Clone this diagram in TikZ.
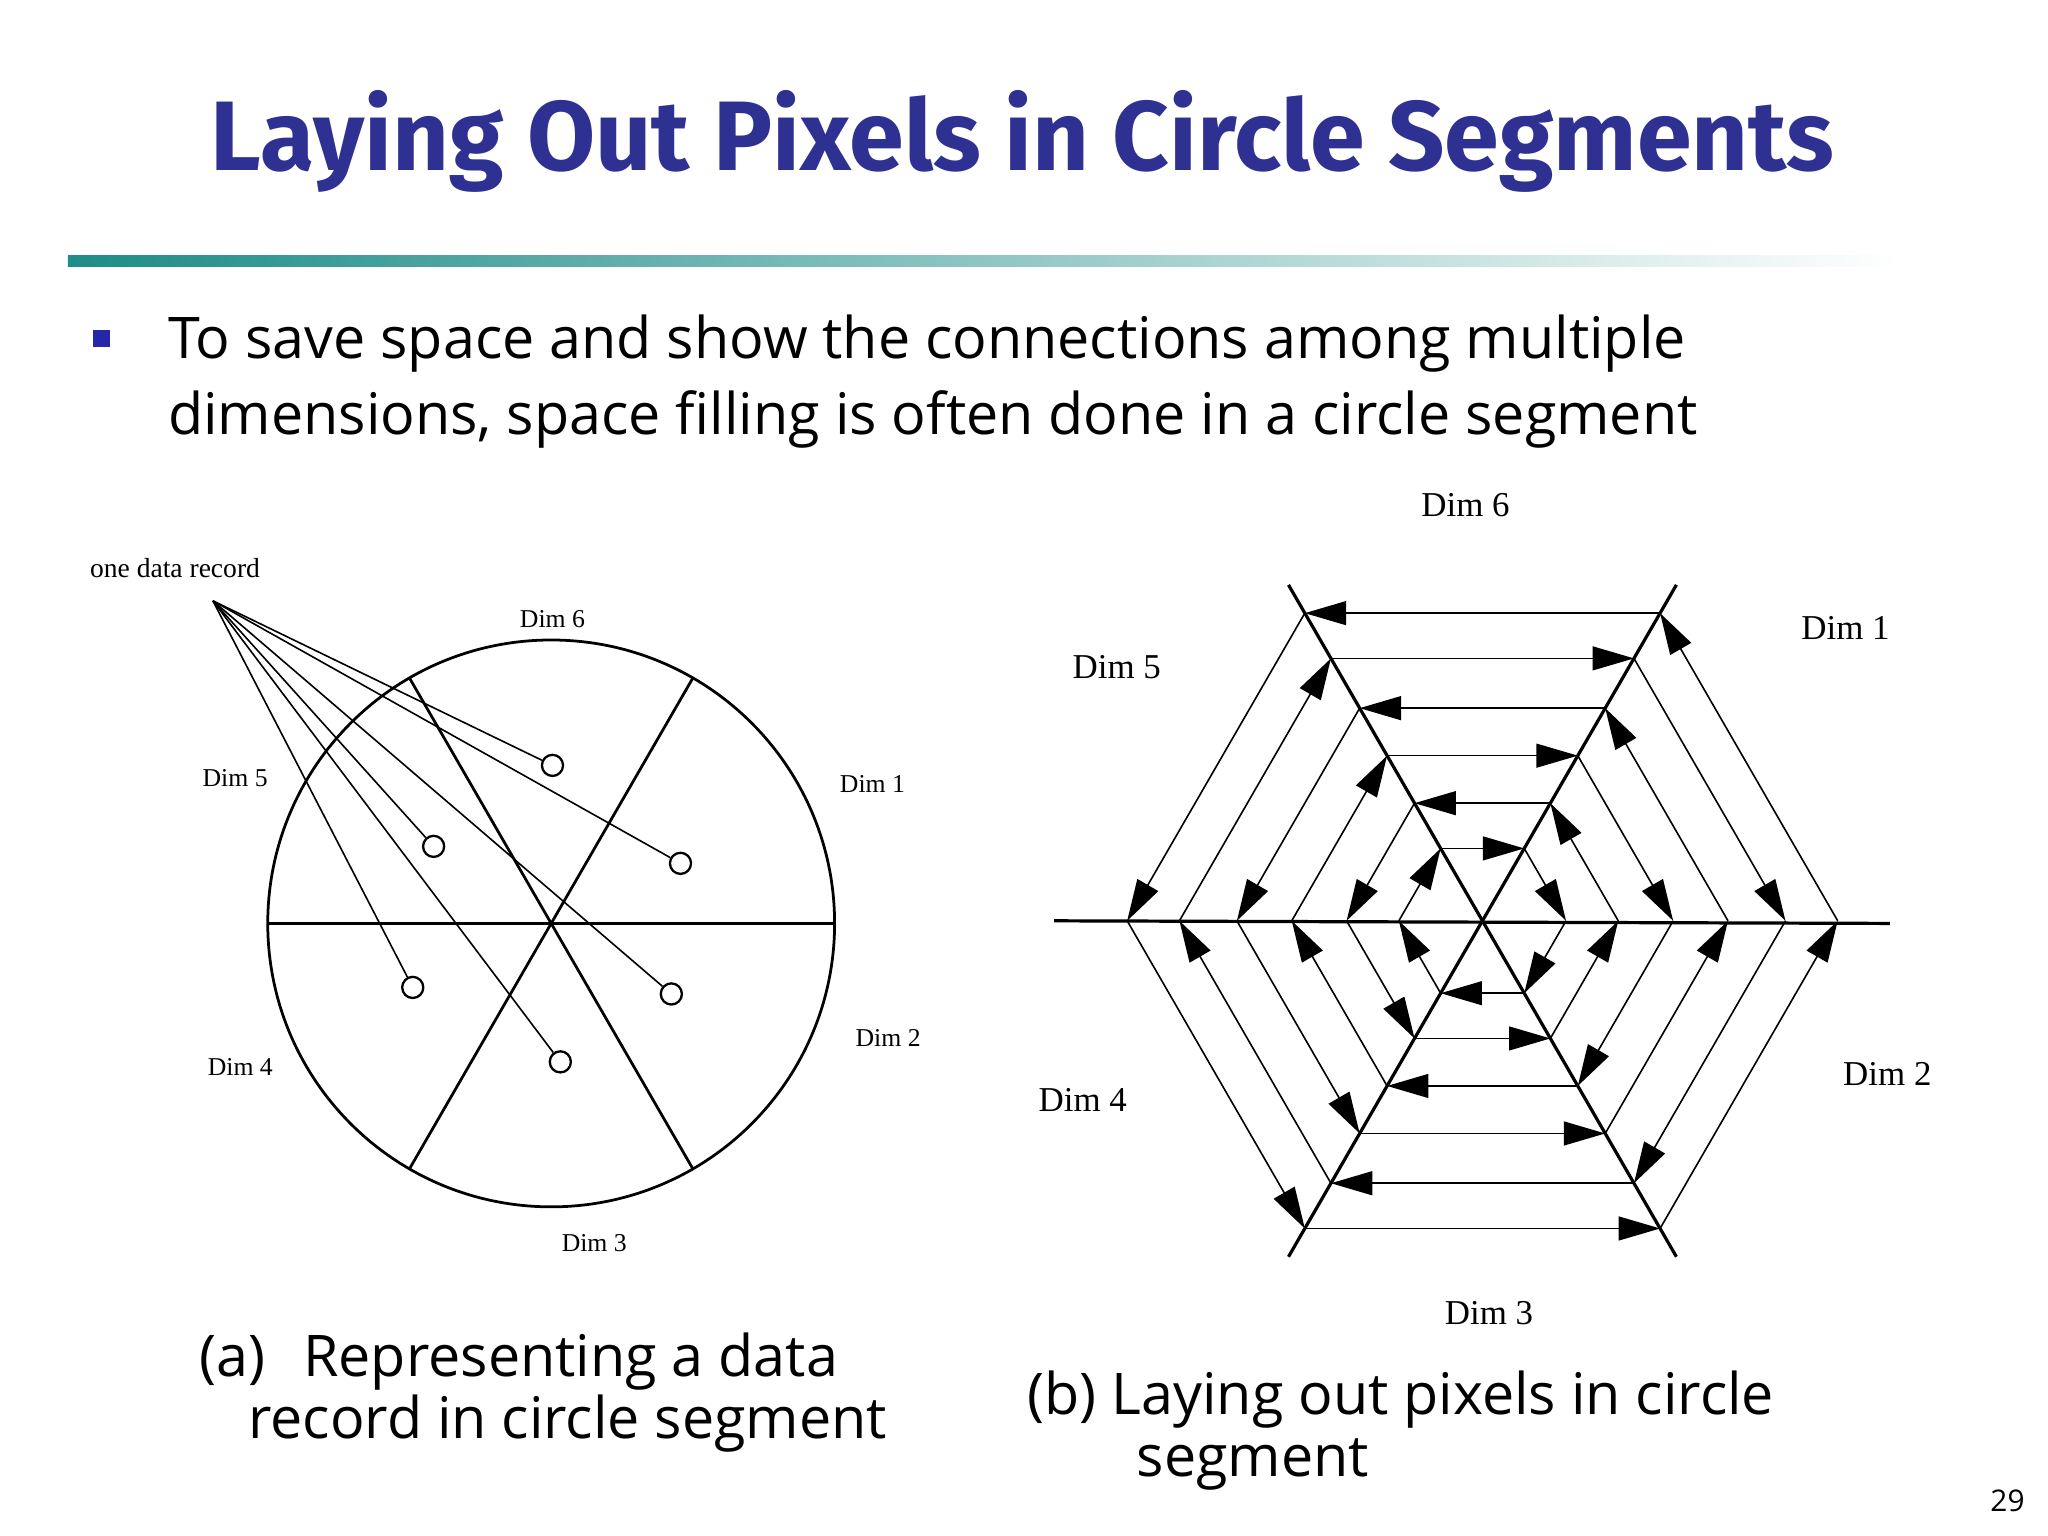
\documentclass[tikz,border=0pt]{standalone}
\usepackage{fontspec}
\setmainfont{Open Sans}
\newfontfamily\titlefont{Fira Sans}
\newfontfamily\timesfont{Liberation Serif}
\usetikzlibrary{arrows.meta,calc}
\definecolor{titleblue}{RGB}{46,49,146}
\definecolor{tealc}{RGB}{30,140,135}
\begin{document}
\begin{tikzpicture}[x=0.01cm,y=-0.01cm,
  dimA/.style={font=\timesfont\fontsize{5.6}{6}\selectfont},
  dimB/.style={font=\timesfont\fontsize{7.6}{8}\selectfont},
  rec/.style={circle,draw,line width=0.5pt,minimum size=4.6pt,inner sep=0},
  hexarrow/.style={line width=0.35pt,-{Triangle[length=9pt,width=5.2pt]}},
  divider/.style={line width=0.7pt}]
\useasboundingbox (0,0) rectangle (1568,1176);
% title
\node[font=\titlefont\bfseries\fontsize{21.5}{24}\selectfont,text=titleblue] (title) at (783,108) {Laying Out Pixels in Circle Segments};
\shade[left color=tealc,right color=white] (52,196) rectangle (1455,204);
% bullet
\fill[titleblue!80!blue] (71,253) rectangle (84,266);
\node[anchor=west,font=\fontsize{12.5}{16.5}\selectfont,align=left,inner sep=0] (body) at (128,292)
 {To save space and show the connections among multiple\\dimensions, space filling is often done in a circle segment};
% ---- (a)
\coordinate (ca) at (422,707);
\draw[line width=0.6pt] (ca) circle (217);
\draw[line width=0.6pt] (205,707) -- (639,707);
\draw[line width=0.6pt] ($(ca)+(60:217)$) -- ($(ca)+(240:217)$);
\draw[line width=0.6pt] ($(ca)+(120:217)$) -- ($(ca)+(300:217)$);
\node[dimA] (a6) at (423,474) {Dim 6};
\node[dimA] (a1) at (668,600) {Dim 1};
\node[dimA] (a5) at (180,596) {Dim 5};
\node[dimA] (a2) at (680,795) {Dim 2};
\node[dimA] (a4) at (184,817) {Dim 4};
\node[dimA] (a3) at (455,952) {Dim 3};
\node[dimA,font=\timesfont\fontsize{6}{7}\selectfont] (odr) at (134,435) {one data record};
\coordinate (src) at (163,460);
\foreach \n/\p in {r1/{(423,586)},r2/{(521,661)},r3/{(332,648)},r4/{(514,761)},r5/{(316,756)},r6/{(429,813)}}{
  \node[rec] (\n) at \p {};
  \draw[line width=0.35pt] (src) -- (\n);
}
\node[anchor=west,font=\fontsize{12.5}{14.5}\selectfont,align=left,inner sep=0] (capa) at (152,1066)
 {(a)\hspace{0.4em} Representing a data\\[-1pt]\hspace{0.85em}record in circle segment};
% ---- (b)
\coordinate (cb) at (1135,705);
\draw[divider] (807,705) -- (1447,707);
\draw[divider] ($(cb)+(60:297)$) -- ($(cb)+(240:297)$);
\draw[divider] ($(cb)+(120:297)$) -- ($(cb)+(300:297)$);
\foreach \r [count=\k] in {272,232,188,146,104,64}{
  \foreach \i in {0,...,5}{
    \pgfmathsetmacro{\aa}{-60*\i}
    \ifodd\k
      \pgfmathsetmacro{\bb}{-60*(\i+1)}
    \else
      \pgfmathsetmacro{\bb}{-60*(\i-1)}
    \fi
    \draw[hexarrow] ($(cb)+(\aa:\r)$) -- ($(cb)+(\bb:\r)$);
  }
}
\node[dimB] (b6) at (1122,387) {Dim 6};
\node[dimB] (b1) at (1413,481) {Dim 1};
\node[dimB] (b5) at (855,511) {Dim 5};
\node[dimB] (b2) at (1445,822) {Dim 2};
\node[dimB] (b4) at (829,842) {Dim 4};
\node[dimB] (b3) at (1140,1005) {Dim 3};
\node[anchor=west,font=\fontsize{12.5}{14.5}\selectfont,align=left,inner sep=0] (capb) at (786,1095)
 {(b) Laying out pixels in circle\\[-1pt]\hspace{1.9em}segment};
\node[font=\fontsize{6.5}{8}\selectfont] (pg) at (1537,1149) {29};
\end{tikzpicture}
\end{document}
